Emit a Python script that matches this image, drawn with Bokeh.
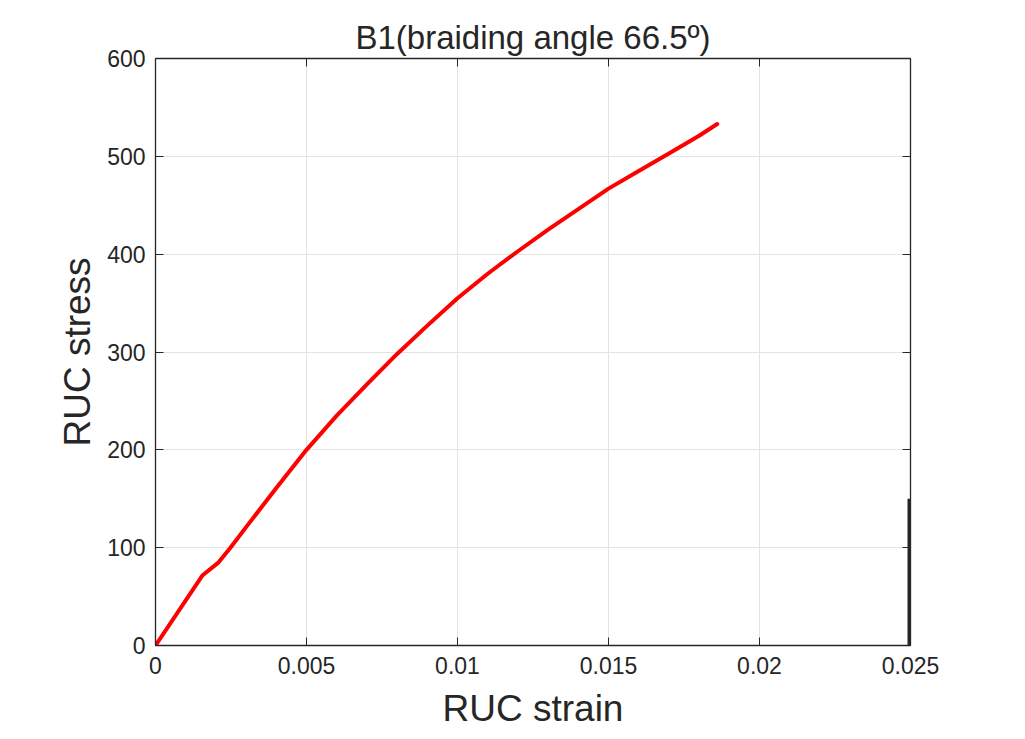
from bokeh.plotting import figure
from bokeh.models import LinearAxis, FixedTicker, CustomJSTickFormatter, Range1d
from bokeh.embed import file_html
from bokeh.resources import INLINE

# data
strain = [0, 0.00155, 0.00209, 0.00248, 0.003, 0.004, 0.005, 0.006, 0.007,
          0.008, 0.009, 0.010, 0.011, 0.012, 0.013, 0.014, 0.015, 0.016,
          0.017, 0.018, 0.0186]
stress = [0, 71.5, 85, 100, 121, 161, 200, 235, 267,
          298, 327, 355, 380, 403, 425, 446, 467, 485,
          503, 521, 533]
bar_x = [0.025, 0.025]
bar_y = [0, 150]

x_ticks = [0, 0.005, 0.01, 0.015, 0.02, 0.025]
y_ticks = [0, 100, 200, 300, 400, 500, 600]

title_text = "B1(braiding angle 66.5º)"
x_label = "RUC strain"
y_label = "RUC stress"

FONT = "Liberation Sans"
AX = "#262626"

p = figure(width=1009, height=731, output_backend="svg", toolbar_location=None,
           x_range=Range1d(0, 0.025), y_range=Range1d(0, 600),
           min_border_left=155, min_border_right=99, min_border_top=58,
           min_border_bottom=86, x_axis_label=x_label, y_axis_label=y_label)
p.outline_line_color = None
p.background_fill_color = "white"
p.border_fill_color = "white"

p.title.text = title_text
p.title.align = "center"
p.title.text_font = FONT
p.title.text_font_size = "33px"
p.title.text_font_style = "normal"
p.title.text_color = "#262626"
p.title.offset = 0
p.title.standoff = 6

fmt = CustomJSTickFormatter(code="return String(Number(tick.toPrecision(6)));")

def style(ax, ticks, labels=True):
    ax.ticker = FixedTicker(ticks=ticks)
    ax.axis_line_color = AX
    ax.axis_line_width = 1.3
    ax.major_tick_line_color = AX
    ax.major_tick_in = 8
    ax.major_tick_out = 0
    ax.minor_tick_line_color = None
    ax.major_label_text_font = FONT
    ax.major_label_text_font_size = "23px"
    ax.major_label_text_color = "#262626"
    ax.axis_label_text_font = FONT
    ax.axis_label_text_font_size = "37px"
    ax.axis_label_text_font_style = "normal"
    ax.axis_label_text_color = "#262626"
    if labels:
        ax.formatter = fmt
    else:
        ax.major_label_text_font_size = "0px"
        ax.major_label_text_color = None

style(p.xaxis[0], x_ticks)
style(p.yaxis[0], y_ticks)
p.xaxis[0].major_label_standoff = 11
p.xaxis[0].axis_label_standoff = 11
p.yaxis[0].major_label_standoff = 10
p.yaxis[0].axis_label_standoff = 6

top = LinearAxis()
style(top, x_ticks, labels=False)
p.add_layout(top, "above")
right = LinearAxis()
style(right, y_ticks, labels=False)
p.add_layout(right, "right")

p.xgrid.ticker = FixedTicker(ticks=x_ticks)
p.ygrid.ticker = FixedTicker(ticks=y_ticks)
p.xgrid.grid_line_color = "#e3e3e3"
p.ygrid.grid_line_color = "#e3e3e3"
p.xgrid.grid_line_width = 1
p.ygrid.grid_line_width = 1

p.line(strain, stress, line_color="#ff0000", line_width=4, line_join="round", line_cap="round")
p.line(bar_x, bar_y, line_color="#262626", line_width=6)

open("out.html", "w").write(file_html(p, INLINE))
